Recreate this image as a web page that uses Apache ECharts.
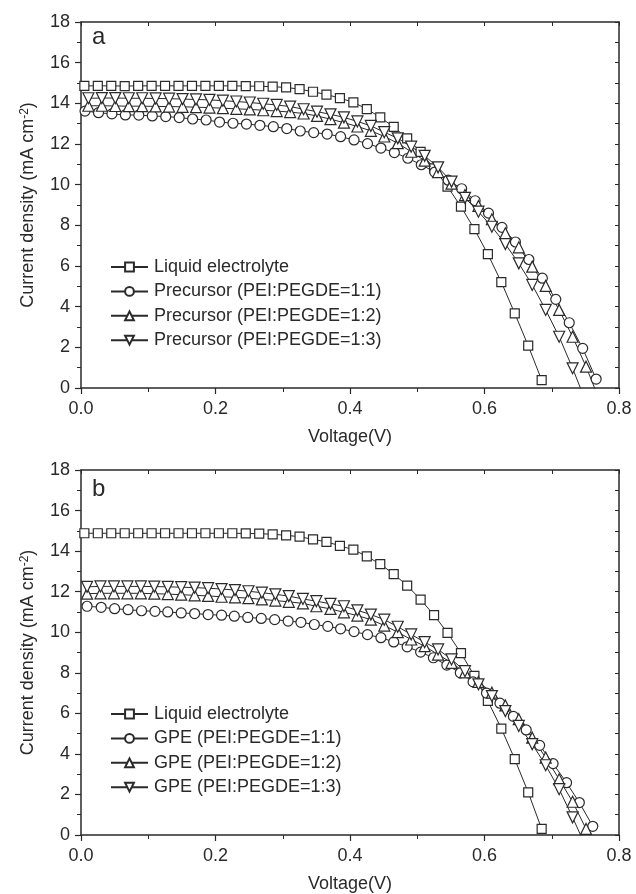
<!DOCTYPE html>
<html>
<head>
<meta charset="utf-8">
<script src="https://cdn.jsdelivr.net/npm/echarts@6/dist/echarts.min.js"></script>
<style>
  html, body { margin: 0; padding: 0; background: #fff; }
  #chart { width: 636px; height: 894px; }
</style>
</head>
<body>
<div id="chart"></div>
<script>
// J-V curves: [voltage (V), current density (mA cm-2)]
const liquidA = [[0.005,14.86],[0.025,14.86],[0.045,14.86],[0.065,14.85],[0.085,14.86],[0.105,14.86],[0.125,14.86],[0.145,14.86],[0.165,14.86],[0.185,14.86],[0.205,14.86],[0.225,14.86],[0.245,14.85],[0.265,14.84],[0.285,14.82],[0.305,14.78],[0.325,14.70],[0.345,14.57],[0.365,14.43],[0.385,14.26],[0.405,14.05],[0.425,13.72],[0.445,13.31],[0.465,12.84],[0.485,12.28],[0.505,11.61],[0.525,10.80],[0.545,9.90],[0.565,8.92],[0.585,7.81],[0.605,6.58],[0.625,5.21],[0.645,3.67],[0.665,2.08],[0.685,0.39]];
const precursor11 = [[0.006,13.62],[0.026,13.54],[0.046,13.48],[0.066,13.43],[0.086,13.42],[0.106,13.38],[0.126,13.35],[0.146,13.30],[0.166,13.23],[0.186,13.18],[0.206,13.08],[0.226,13.02],[0.246,12.98],[0.266,12.92],[0.286,12.85],[0.306,12.76],[0.326,12.64],[0.346,12.56],[0.366,12.49],[0.386,12.36],[0.406,12.20],[0.426,12.02],[0.446,11.80],[0.466,11.58],[0.486,11.30],[0.506,10.98],[0.526,10.62],[0.546,10.22],[0.566,9.80],[0.586,9.21],[0.606,8.60],[0.626,7.90],[0.646,7.18],[0.666,6.32],[0.686,5.40],[0.706,4.36],[0.726,3.21],[0.746,1.95],[0.766,0.44]];
const precursor12 = [[0.011,13.88],[0.031,13.88],[0.051,13.87],[0.071,13.86],[0.091,13.86],[0.111,13.85],[0.131,13.84],[0.151,13.83],[0.171,13.81],[0.191,13.79],[0.211,13.76],[0.231,13.73],[0.251,13.70],[0.271,13.66],[0.291,13.62],[0.311,13.57],[0.331,13.50],[0.351,13.38],[0.371,13.22],[0.391,13.05],[0.411,12.86],[0.431,12.65],[0.451,12.37],[0.471,12.04],[0.491,11.62],[0.511,11.18],[0.531,10.62],[0.551,10.05],[0.571,9.49],[0.591,8.95],[0.611,8.30],[0.631,7.61],[0.651,6.92],[0.671,5.97],[0.691,5.02],[0.711,3.84],[0.731,2.52],[0.751,1.05],[0.771,-0.6]];
const precursor13 = [[0.011,14.25],[0.031,14.26],[0.051,14.26],[0.071,14.25],[0.091,14.25],[0.111,14.24],[0.131,14.23],[0.151,14.21],[0.171,14.19],[0.191,14.17],[0.211,14.13],[0.231,14.09],[0.251,14.04],[0.271,13.98],[0.291,13.92],[0.311,13.84],[0.331,13.71],[0.351,13.59],[0.371,13.46],[0.391,13.31],[0.411,13.11],[0.431,12.89],[0.451,12.58],[0.471,12.28],[0.491,11.87],[0.511,11.42],[0.531,10.85],[0.551,10.15],[0.571,9.35],[0.591,8.67],[0.611,7.93],[0.631,7.08],[0.651,6.13],[0.671,5.07],[0.691,3.84],[0.711,2.52],[0.731,0.97],[0.751,-0.7]];

const liquidB = [[0.005,14.88],[0.025,14.88],[0.045,14.88],[0.065,14.88],[0.085,14.88],[0.105,14.88],[0.125,14.88],[0.145,14.88],[0.165,14.88],[0.185,14.88],[0.205,14.88],[0.225,14.88],[0.245,14.87],[0.265,14.86],[0.285,14.83],[0.305,14.78],[0.325,14.71],[0.345,14.58],[0.365,14.46],[0.385,14.26],[0.405,14.07],[0.425,13.74],[0.445,13.36],[0.465,12.87],[0.485,12.30],[0.505,11.61],[0.525,10.84],[0.545,9.97],[0.565,8.97],[0.585,7.85],[0.605,6.61],[0.625,5.25],[0.645,3.74],[0.665,2.10],[0.685,0.30]];
const gpe11 = [[0.009,11.28],[0.030,11.23],[0.050,11.16],[0.070,11.11],[0.090,11.06],[0.110,11.03],[0.129,11.00],[0.149,10.95],[0.169,10.92],[0.189,10.87],[0.209,10.84],[0.228,10.79],[0.248,10.73],[0.268,10.68],[0.288,10.62],[0.308,10.55],[0.327,10.49],[0.347,10.38],[0.367,10.29],[0.386,10.17],[0.406,10.03],[0.426,9.88],[0.446,9.73],[0.465,9.52],[0.485,9.28],[0.505,9.02],[0.524,8.74],[0.544,8.38],[0.564,8.00],[0.583,7.55],[0.603,7.00],[0.623,6.50],[0.643,5.85],[0.662,5.18],[0.682,4.42],[0.702,3.52],[0.722,2.58],[0.741,1.60],[0.761,0.43]];
const gpe12 = [[0.009,11.90],[0.029,11.92],[0.049,11.92],[0.069,11.92],[0.089,11.92],[0.109,11.90],[0.129,11.88],[0.149,11.85],[0.169,11.82],[0.189,11.79],[0.209,11.75],[0.229,11.72],[0.249,11.68],[0.269,11.62],[0.289,11.56],[0.309,11.50],[0.330,11.42],[0.350,11.28],[0.371,11.15],[0.391,10.98],[0.411,10.82],[0.431,10.62],[0.451,10.33],[0.471,10.00],[0.491,9.64],[0.511,9.31],[0.531,8.90],[0.551,8.49],[0.571,8.02],[0.591,7.55],[0.611,7.02],[0.631,6.39],[0.651,5.71],[0.671,4.80],[0.691,3.82],[0.711,2.75],[0.731,1.64],[0.751,0.30]];
const gpe13 = [[0.009,12.24],[0.029,12.26],[0.049,12.26],[0.069,12.26],[0.089,12.26],[0.109,12.25],[0.129,12.24],[0.149,12.22],[0.169,12.20],[0.189,12.17],[0.209,12.13],[0.229,12.08],[0.249,12.02],[0.269,11.95],[0.289,11.87],[0.309,11.78],[0.330,11.64],[0.350,11.53],[0.371,11.40],[0.391,11.28],[0.411,11.08],[0.431,10.87],[0.451,10.62],[0.471,10.27],[0.491,9.89],[0.511,9.51],[0.531,9.15],[0.551,8.66],[0.571,8.08],[0.591,7.43],[0.611,6.85],[0.631,6.11],[0.651,5.38],[0.671,4.48],[0.691,3.44],[0.711,2.26],[0.731,0.87],[0.751,-0.6]];

const namesA = ['Liquid electrolyte', 'Precursor (PEI:PEGDE=1:1)', 'Precursor (PEI:PEGDE=1:2)', 'Precursor (PEI:PEGDE=1:3)'];
const namesB = ['Liquid electrolyte ', 'GPE (PEI:PEGDE=1:1)', 'GPE (PEI:PEGDE=1:2)', 'GPE (PEI:PEGDE=1:3)'];
const panelLabels = ['a', 'b'];

const FONT = 'Liberation Sans, Arial, Helvetica, sans-serif';
const INK = '#2a2a2a';
const markers = [
  { symbol: 'rect', size: 9, rotate: 0 },
  { symbol: 'circle', size: 10, rotate: 0 },
  { symbol: 'triangle', size: 11, rotate: 0 },
  { symbol: 'triangle', size: 11, rotate: 180 }
];

const chart = echarts.init(document.getElementById('chart'));

const grids = [
  { left: 81, top: 22, width: 538, height: 366 },
  { left: 81, top: 470, width: 538, height: 366 }
];

function bottomAxis(gridIndex) {
  return {
    type: 'value', gridIndex, position: 'bottom', min: 0, max: 0.8, interval: 0.2,
    name: 'Voltage(V)', nameLocation: 'middle', nameGap: 40,
    nameTextStyle: { fontFamily: FONT, fontSize: 18, color: INK },
    axisLine: { show: true, onZero: false, lineStyle: { color: INK, width: 1.5 } },
    axisTick: { show: true, inside: false, length: 6, lineStyle: { color: INK, width: 1.2 } },
    minorTick: { show: true, splitNumber: 2, length: 4, lineStyle: { color: INK, width: 1 } },
    axisLabel: { fontFamily: FONT, fontSize: 18, color: INK, margin: 12, formatter: v => v.toFixed(1) },
    splitLine: { show: false }
  };
}
function topAxis(gridIndex) {
  return {
    type: 'value', gridIndex, position: 'top', min: 0, max: 0.8, interval: 0.1,
    axisLine: { show: true, onZero: false, lineStyle: { color: INK, width: 1.5 } },
    axisTick: { show: true, inside: true, length: 4, lineStyle: { color: INK, width: 1 } },
    axisLabel: { show: false }, splitLine: { show: false }
  };
}
function leftAxis(gridIndex) {
  return {
    type: 'value', gridIndex, position: 'left', min: 0, max: 18, interval: 2,
    name: 'Current density (mA cm{sup|-2}{n|)}', nameLocation: 'middle', nameGap: 44, nameRotate: 90,
    nameTextStyle: {
      fontFamily: FONT, fontSize: 18, color: INK,
      rich: {
        sup: { fontFamily: FONT, fontSize: 12, color: INK, verticalAlign: 'top', lineHeight: 14 },
        n: { fontFamily: FONT, fontSize: 18, color: INK }
      }
    },
    axisLine: { show: true, onZero: false, lineStyle: { color: INK, width: 1.5 } },
    axisTick: { show: true, inside: false, length: 6, lineStyle: { color: INK, width: 1.2 } },
    minorTick: { show: true, splitNumber: 2, length: 4, lineStyle: { color: INK, width: 1 } },
    axisLabel: { fontFamily: FONT, fontSize: 18, color: INK, margin: 11 },
    splitLine: { show: false }
  };
}
function rightAxis(gridIndex) {
  return {
    type: 'value', gridIndex, position: 'right', min: 0, max: 18, interval: 1,
    axisLine: { show: true, onZero: false, lineStyle: { color: INK, width: 1.5 } },
    axisTick: { show: true, inside: true, length: 4, lineStyle: { color: INK, width: 1 } },
    axisLabel: { show: false }, splitLine: { show: false }
  };
}

function makeSeries(name, data, m, xi, yi) {
  return {
    name, type: 'line', data, xAxisIndex: xi, yAxisIndex: yi,
    symbol: m.symbol, symbolSize: m.size, symbolRotate: m.rotate,
    clip: true, animation: false,
    lineStyle: { color: INK, width: 1 },
    itemStyle: { color: '#fff', borderColor: INK, borderWidth: 1.2 },
    emphasis: { disabled: true }
  };
}

const dataA = [liquidA, precursor11, precursor12, precursor13];
const dataB = [liquidB, gpe11, gpe12, gpe13];
const series = [];
namesA.forEach((n, i) => series.push(makeSeries(n, dataA[i], markers[i], 0, 0)));
namesB.forEach((n, i) => series.push(makeSeries(n, dataB[i], markers[i], 2, 2)));

function legendFor(names, top) {
  return {
    data: names, orient: 'vertical', left: 110, top, padding: 0,
    itemWidth: 37, itemHeight: 11, itemGap: 6.4, selectedMode: false,
    textStyle: { fontFamily: FONT, fontSize: 18, color: INK, lineHeight: 18, padding: [0, 0, 0, 1] }
  };
}

chart.setOption({
  backgroundColor: '#fff',
  animation: false,
  grid: grids,
  xAxis: [bottomAxis(0), topAxis(0), bottomAxis(1), topAxis(1)],
  yAxis: [leftAxis(0), rightAxis(0), leftAxis(1), rightAxis(1)],
  legend: [legendFor(namesA, 258), legendFor(namesB, 705)],
  graphic: [
    { type: 'text', left: 92, top: 25, style: { text: panelLabels[0], font: '24px ' + FONT, fill: INK } },
    { type: 'text', left: 92, top: 477, style: { text: panelLabels[1], font: '24px ' + FONT, fill: INK } }
  ],
  series
});
</script>
</body>
</html>
